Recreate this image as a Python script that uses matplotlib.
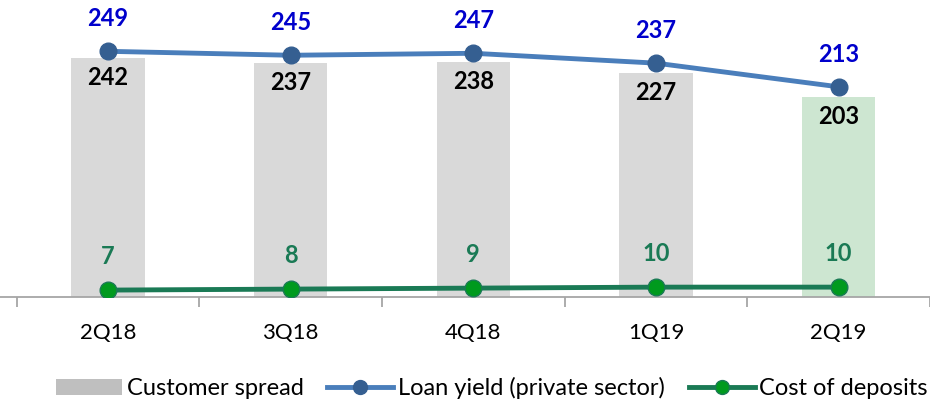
import matplotlib.pyplot as plt
import numpy as np
from matplotlib.lines import Line2D
from matplotlib.patches import Patch

plt.rcParams['font.family'] = ['Lato', 'DejaVu Sans']

quarters = ['2Q18', '3Q18', '4Q18', '1Q19', '2Q19']
customer_spread = [242, 237, 238, 227, 203]
loan_yield = [249, 245, 247, 237, 213]
cost_deposits = [7, 8, 9, 10, 10]

x = np.arange(len(quarters))
bar_colors = ['#d9d9d9'] * 4 + ['#cde6d1']

fig = plt.figure(figsize=(9.3, 4.01), dpi=100)
ax = fig.add_axes([0, 104 / 401, 1, 297 / 401])

ax.bar(x, customer_spread, width=0.4, color=bar_colors, zorder=1)
ax.plot(x, loan_yield, color='#4a7ebb', lw=3.5, marker='o', ms=12,
        markerfacecolor='#355f91', markeredgecolor='#355f91', zorder=3)
ax.plot(x, cost_deposits, color='#1a7a55', lw=3.5, marker='o', ms=12,
        markerfacecolor='#009a1e', markeredgecolor='#1a7a55', zorder=3)

for i in range(len(quarters)):
    ax.text(x[i], loan_yield[i] + 33, str(loan_yield[i]), ha='center', va='center',
            fontsize=17, fontweight='bold', color='#0000cc')
    ax.text(x[i], customer_spread[i] - 20, str(customer_spread[i]), ha='center', va='center',
            fontsize=17, fontweight='bold', color='black')
    ax.text(x[i], cost_deposits[i] + 34, str(cost_deposits[i]), ha='center', va='center',
            fontsize=17, fontweight='bold', color='#1a7a55')

ax.set_xlim(-110 / 186, 4 + 77 / 186)
ax.set_ylim(0, 301)
for s in ['top', 'right', 'left']:
    ax.spines[s].set_visible(False)
ax.spines['bottom'].set_color('#a6a6a6')
ax.spines['bottom'].set_linewidth(1.3)
ax.set_yticks([])
ax.set_xticks(x)
ax.set_xticklabels(quarters, fontsize=16)
ax.tick_params(axis='x', which='major', length=0, pad=19)
ax.set_xticks(np.arange(-0.5, 5, 1), minor=True)
ax.tick_params(axis='x', which='minor', length=7, width=1.3, color='#a6a6a6')

handles = [
    Patch(facecolor='#bfbfbf', edgecolor='none', label='Customer spread'),
    Line2D([], [], color='#4a7ebb', lw=3.5, marker='o', ms=10,
           markerfacecolor='#355f91', markeredgecolor='#355f91', label='Loan yield (private sector)'),
    Line2D([], [], color='#1a7a55', lw=3.5, marker='o', ms=10,
           markerfacecolor='#009a1e', markeredgecolor='#1a7a55', label='Cost of deposits'),
]
fig.legend(handles=handles, loc='center', bbox_to_anchor=(0.529, 13 / 401), ncol=3,
           frameon=False, fontsize=17, handlelength=2.8, handletextpad=0.2,
           columnspacing=1.0)

fig.savefig('out.png', dpi=100)
